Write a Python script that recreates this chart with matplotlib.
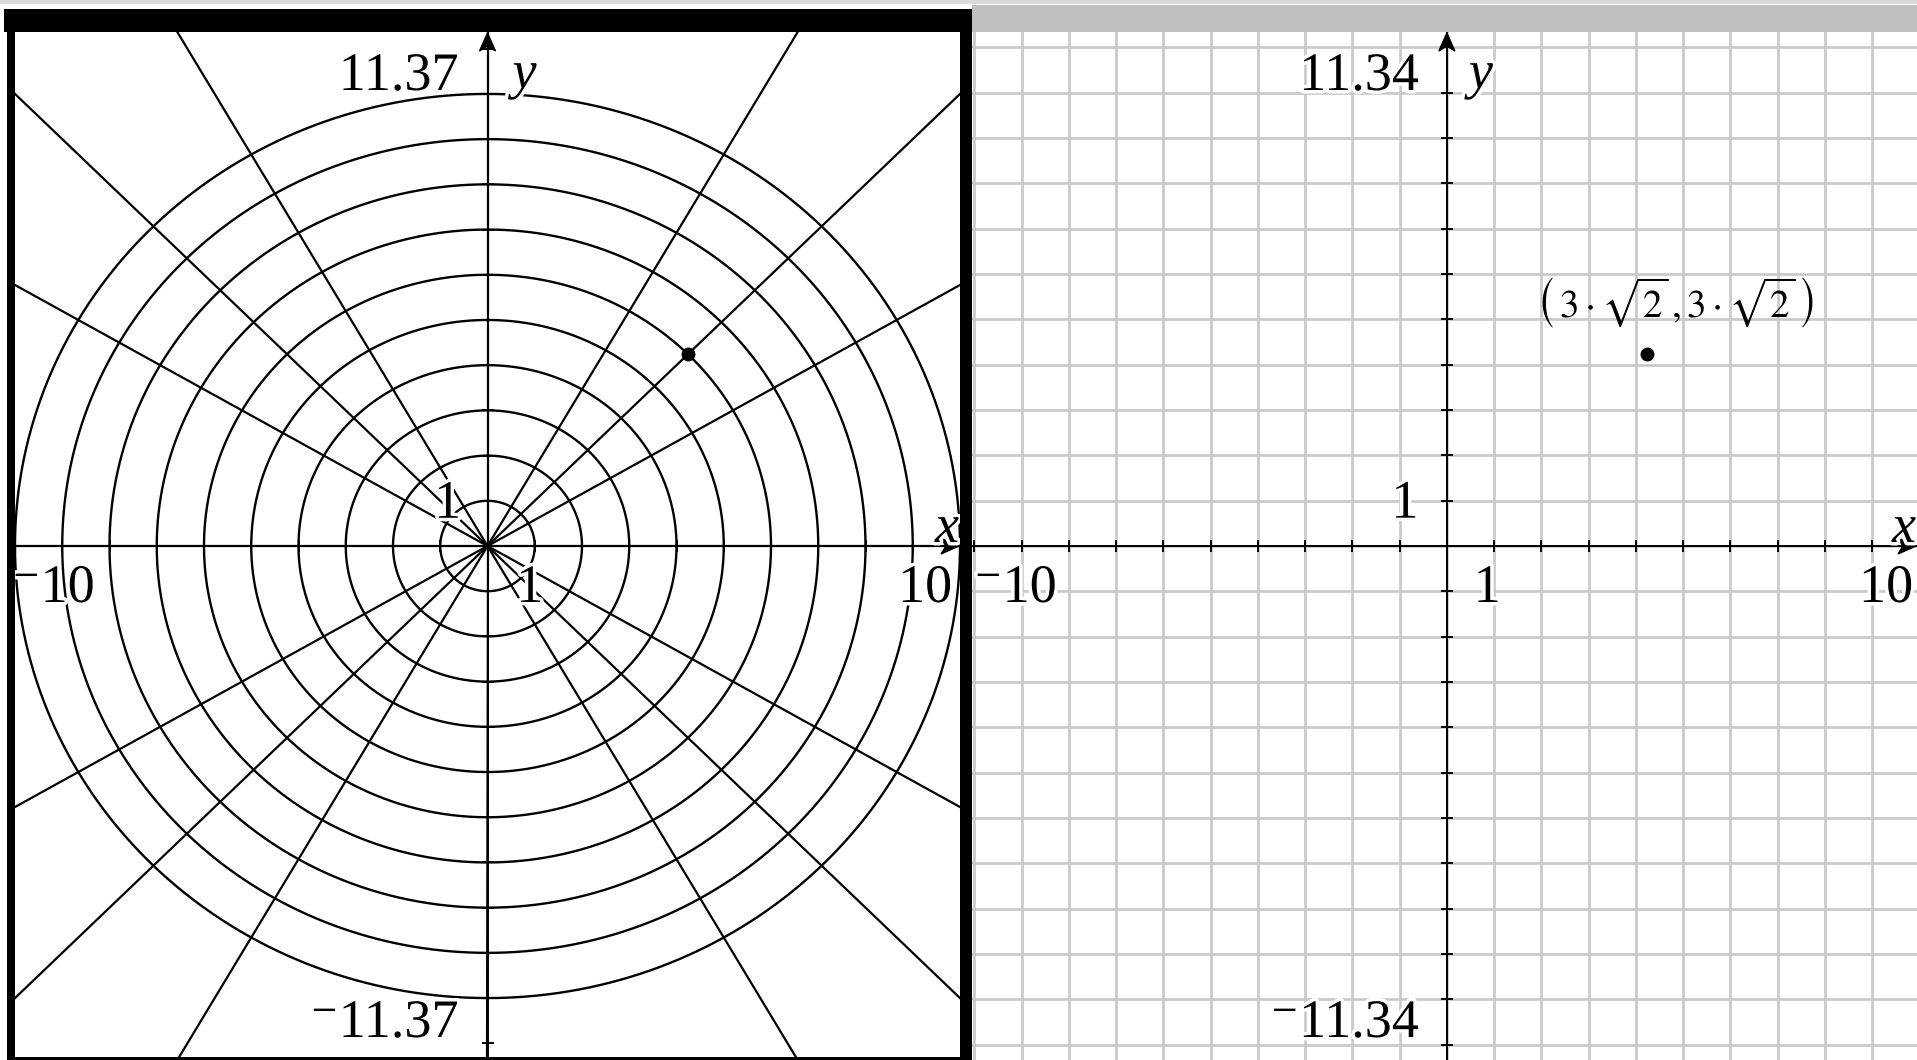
import numpy as np
import matplotlib
matplotlib.use("Agg")
import matplotlib.pyplot as plt
from matplotlib.patches import Rectangle, Polygon
from matplotlib.ticker import MultipleLocator
from matplotlib.transforms import blended_transform_factory, Affine2D, ScaledTranslation
import matplotlib.patheffects as pe

# ---------------- data ----------------
polar_radii = [1, 2, 3, 4, 5, 6, 7, 8, 9, 10]
polar_angles_deg = [0, 30, 45, 60, 90, 120, 135, 150, 180,
                    210, 225, 240, 270, 300, 315, 330]
left_xlim = (-10.0, 10.0)
left_ylim = (-11.37, 11.37)
right_xlim = (-10.05, 9.95)
right_ylim = (-11.34, 11.34)

point_r = 6
point_theta_deg = 45
point_xy = (3 * np.sqrt(2), 3 * np.sqrt(2))
point_label = r"$\left(\,3\cdot\sqrt{2}\,,3\cdot\sqrt{2}\,\right)$"

left_ymax_label, left_ymin_label = "11.37", "\u207b11.37"
right_ymax_label, right_ymin_label = "11.34", "\u207b11.34"
xmin_label, xmax_label = "\u207b10", "10"
unit_label = "1"

# ---------------- style ----------------
W, H, DPI = 1917, 1060, 100
FONT = ["Liberation Serif", "DejaVu Serif"]
plt.rcParams["font.family"] = FONT
plt.rcParams["mathtext.fontset"] = "stix"
LBL = 39
halo = [pe.withStroke(linewidth=5, foreground="white")]

fig = plt.figure(figsize=(W / DPI, H / DPI), dpi=DPI, facecolor="white")

axL = fig.add_axes([15 / W, 0, 945 / W, 1028 / H])
axR = fig.add_axes([972 / W, 0, 945 / W, 1028 / H])


def setup(ax, xlim, ylim):
    ax.set_xlim(*xlim)
    ax.set_ylim(*ylim)
    for s in ax.spines.values():
        s.set_visible(False)
    ax.tick_params(length=0, labelbottom=False, labelleft=False)
    ax.xaxis.set_major_locator(MultipleLocator(1))
    ax.yaxis.set_major_locator(MultipleLocator(1))


setup(axL, left_xlim, left_ylim)
setup(axR, right_xlim, right_ylim)
axL.grid(False)
axR.grid(True, color="#c8c8c8", lw=1.9)
axR.set_axisbelow(True)

# ---------------- left: polar grid ----------------
th = np.linspace(0, 2 * np.pi, 1441)
for r in polar_radii:
    axL.plot(r * np.cos(th), r * np.sin(th), color="black", lw=1.7, zorder=2)
for a in polar_angles_deg:
    t = np.deg2rad(a)
    axL.plot([0, 40 * np.cos(t)], [0, 40 * np.sin(t)], color="black", lw=1.6, zorder=2)

pt_rad = np.deg2rad(point_theta_deg)
axL.plot([point_r * np.cos(pt_rad)], [point_r * np.sin(pt_rad)], "o",
         color="black", ms=9, zorder=6)


# ---------------- axes, ticks, arrows ----------------
def draw_axes(ax, xlim, ylim):
    ax.axhline(0, color="black", lw=1.4, zorder=3)
    ax.axvline(0, color="black", lw=1.4, zorder=3)
    xt = np.arange(np.ceil(xlim[0]), np.floor(xlim[1]) + 1)
    yt = np.arange(np.ceil(ylim[0]), np.floor(ylim[1]) + 1)
    ax.plot(xt, np.zeros_like(xt), ls="none", marker="|", ms=8, mew=1.4,
            color="black", zorder=3, clip_on=False)
    ax.plot(np.zeros_like(yt), yt, ls="none", marker="_", ms=8, mew=1.4,
            color="black", zorder=3, clip_on=False)
    # arrow heads (pixel offsets)
    ty = Affine2D() + ScaledTranslation(0, 1, blended_transform_factory(ax.transData, ax.transAxes))
    ax.add_patch(Polygon([(0, -1), (-8, -19), (0, -14), (8, -19)], closed=True,
                         transform=ty, fc="black", ec="black", lw=1, clip_on=False, zorder=4))
    tx = Affine2D() + ScaledTranslation(1, 0, blended_transform_factory(ax.transAxes, ax.transData))
    ax.add_patch(Polygon([(-1, 0), (-19, -8), (-14, 0), (-19, 8)], closed=True,
                         transform=tx, fc="black", ec="black", lw=1, clip_on=False, zorder=4))


draw_axes(axL, left_xlim, left_ylim)
draw_axes(axR, right_xlim, right_ylim)


def lab(ax, s, xy, coords, off, ha, italic=False, size=LBL):
    ax.annotate(s, xy=xy, xycoords=coords, xytext=off, textcoords="offset pixels",
                ha=ha, va="baseline", fontsize=size,
                fontstyle="italic" if italic else "normal",
                path_effects=halo, zorder=8, annotation_clip=False)


def labels(ax, ymax_s, ymin_s, dx_top, dx_y, dx_xmin, dx_xmax, dx_one_y, dx_one_x):
    yc = ("data", "axes fraction")
    xc = ("axes fraction", "data")
    lab(ax, ymax_s, (0, 1), yc, (dx_top, -58), "right")
    lab(ax, "y", (0, 1), yc, (dx_y, -56), "left", italic=True)
    lab(ax, ymin_s, (0, 0), yc, (dx_top, 23), "right")
    lab(ax, xmin_label, (0, 0), xc, (dx_xmin, -56), "left")
    lab(ax, xmax_label, (1, 0), xc, (dx_xmax, -56), "right")
    lab(ax, "x", (1, 0), xc, (-1, 4), "right", italic=True)
    lab(ax, unit_label, (0, 1), "data", (dx_one_y, -17), "center")
    lab(ax, unit_label, (1, 0), "data", (dx_one_x, -56), "center")


labels(axL, left_ymax_label, left_ymin_label, -29, 25, -3, -8, -40, -5)
labels(axR, right_ymax_label, right_ymin_label, -28, 22, 2, -4, -42, -7)

# ---------------- right: point ----------------
axR.plot([point_xy[0]], [point_xy[1]], "o", color="black", ms=9, zorder=6)
axR.annotate(point_label, xy=point_xy, xytext=(28, 36), textcoords="offset pixels",
             ha="center", va="baseline", fontsize=28, zorder=8)

# ---------------- window chrome ----------------
ov = fig.add_axes([0, 0, 1, 1], zorder=20)
ov.set_xlim(0, W)
ov.set_ylim(H, 0)
ov.axis("off")
ov.add_patch(Rectangle((0, 0), W, 4, fc="#dadada", ec="none"))
ov.add_patch(Rectangle((972, 5), W - 972, 27, fc="#c0c0c0", ec="none"))
ov.add_patch(Rectangle((4, 9), 968, 23, fc="black", ec="none"))
ov.add_patch(Rectangle((7, 9), 8, H - 9, fc="black", ec="none"))
ov.add_patch(Rectangle((960, 9), 12, H - 9, fc="black", ec="none"))
ov.add_patch(Rectangle((7, H - 3), 965, 3, fc="black", ec="none"))

fig.savefig("out.png", dpi=DPI, facecolor="white")
